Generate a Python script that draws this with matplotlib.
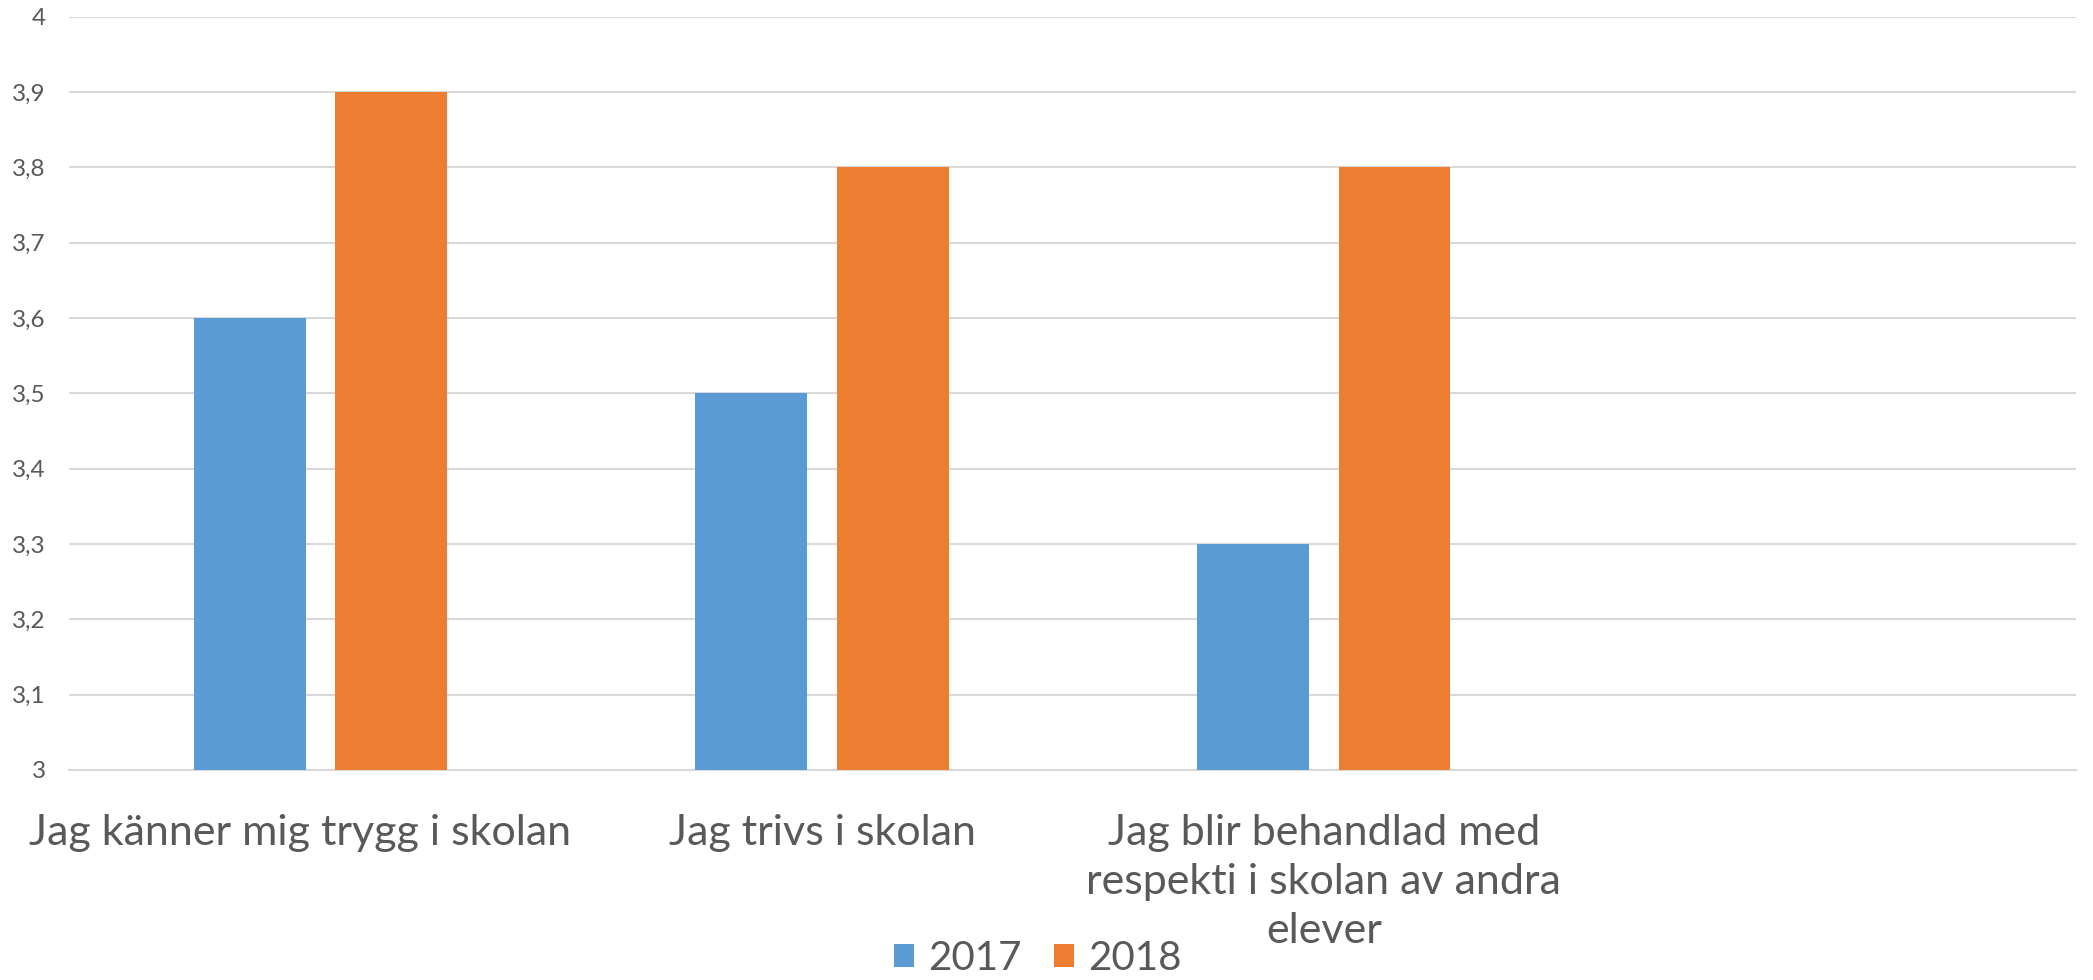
import numpy as np
import matplotlib.pyplot as plt
import matplotlib.transforms as mtransforms
from matplotlib.ticker import FuncFormatter

categories = ['Jag känner mig trygg i skolan',
              'Jag trivs i skolan',
              'Jag blir behandlad med\nrespekti i skolan av andra\nelever',
              '']
years = ['2017', '2018']
vals_2017 = [3.6, 3.5, 3.3, np.nan]
vals_2018 = [3.9, 3.8, 3.8, np.nan]
yticks = np.arange(3.0, 4.01, 0.1)

blue = '#5B9BD5'
orange = '#ED7D31'
txt = '#595959'

plt.rcParams['font.family'] = ['Lato', 'DejaVu Sans']

fig = plt.figure(figsize=(20.93, 9.8), dpi=100)
ax = fig.add_axes([0.0332, 0.2143, 0.9588, 0.7687])

x = np.arange(len(categories))
w = 0.223
off = 0.141
ax.bar(x - off, vals_2017, w, color=blue, label=years[0], zorder=3)
ax.bar(x + off, vals_2018, w, color=orange, label=years[1], zorder=3)

ax.set_xlim(-0.5, len(categories) - 0.5)
ax.set_ylim(3, 4)
ax.set_yticks(yticks)
ax.yaxis.set_major_formatter(FuncFormatter(lambda v, p: ('%g' % round(v, 1)).replace('.', ',')))
ax.set_xticks(x)
ax.set_xticklabels(categories, fontsize=31, color=txt, linespacing=1.34, va='top')
ax.tick_params(axis='x', length=0, pad=32)
ax.tick_params(axis='y', length=0, pad=17, labelsize=17.5, labelcolor=txt)
ax.grid(axis='y', color='#D9D9D9', linewidth=1.5, zorder=0)
for s in ['top', 'right', 'left']:
    ax.spines[s].set_visible(False)
ax.spines['bottom'].set_color('#D9D9D9')
ax.spines['bottom'].set_linewidth(1.5)

# excel pushes the first label a bit to the left
lbl = ax.get_xticklabels()[0]
lbl.set_transform(lbl.get_transform() + mtransforms.ScaledTranslation(-0.2, 0, fig.dpi_scale_trans))

fig.legend(loc='lower center', bbox_to_anchor=(0.496, -0.017), ncol=2, frameon=False,
           fontsize=29, labelcolor=txt, handlelength=0.5, handleheight=0.5,
           handletextpad=0.35, columnspacing=0.8, borderpad=0)

fig.savefig('out.png', dpi=100)
